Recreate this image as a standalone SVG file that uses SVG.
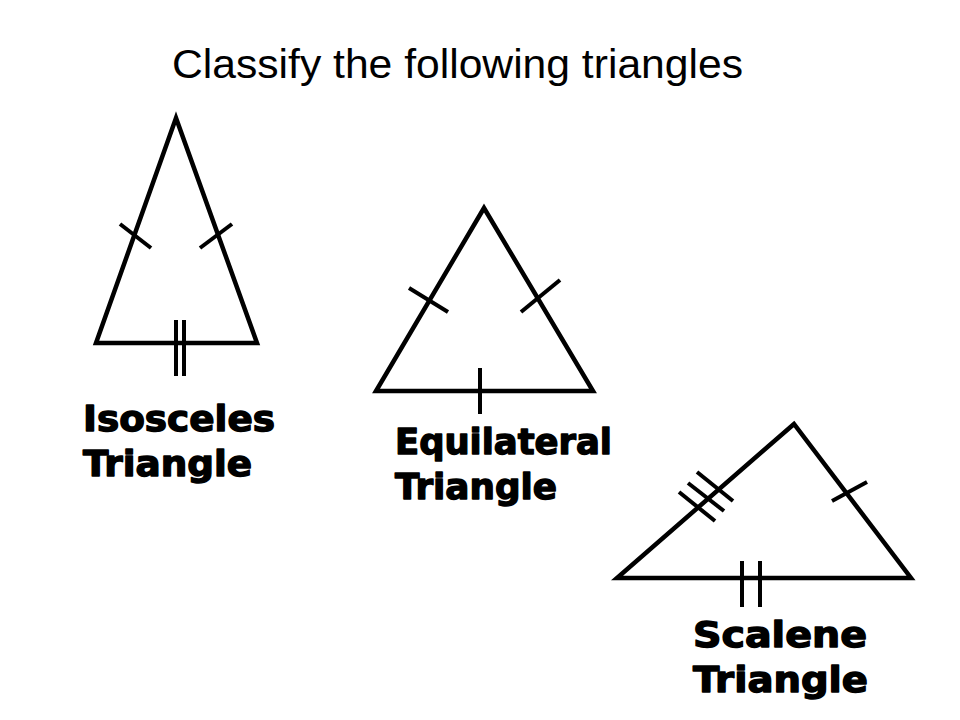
<svg xmlns="http://www.w3.org/2000/svg" width="960" height="720" viewBox="0 0 960 720">
<style>
.tri{fill:none;stroke:#000;stroke-width:4.5;stroke-linejoin:miter}
.tick{stroke:#000;stroke-width:4;fill:none}
.title{font-family:"Liberation Sans",Arial,sans-serif;font-size:41px;fill:#000}
.lbl{font-family:"DejaVu Sans","Liberation Sans",sans-serif;font-weight:bold;font-size:36px;fill:#000;stroke:#000;stroke-width:1.4;stroke-linejoin:round}
</style>
<rect width="960" height="720" fill="#fff"/>
<text class="title" x="172" y="78" textLength="571" lengthAdjust="spacingAndGlyphs">Classify the following triangles</text>
<g id="isosceles">
<polygon class="tri" points="176,118 96,343 257,343"/>
<g class="tick">
<line x1="120" y1="224" x2="151" y2="248"/>
<line x1="232" y1="224" x2="200" y2="248"/>
<line x1="176" y1="320" x2="176" y2="376"/>
<line x1="184" y1="320" x2="184" y2="376"/>
</g>
<text class="lbl" x="83" y="431" textLength="192" lengthAdjust="spacingAndGlyphs">Isosceles</text>
<text class="lbl" x="83" y="476" textLength="169" lengthAdjust="spacingAndGlyphs">Triangle</text>
</g>
<g id="equilateral">
<polygon class="tri" points="484,208 376,391 593,391"/>
<g class="tick">
<line x1="409" y1="288" x2="448" y2="312"/>
<line x1="560" y1="280" x2="521" y2="312"/>
<line x1="480" y1="368" x2="480" y2="414"/>
</g>
<text class="lbl" x="395" y="454" textLength="217" lengthAdjust="spacingAndGlyphs">Equilateral</text>
<text class="lbl" x="395" y="499" textLength="162" lengthAdjust="spacingAndGlyphs">Triangle</text>
</g>
<g id="scalene">
<polygon class="tri" points="794,424 617,578 911,578"/>
<g class="tick">
<line x1="679" y1="492" x2="715" y2="521"/>
<line x1="688" y1="483" x2="724" y2="511"/>
<line x1="697" y1="472" x2="733" y2="501"/>
<line x1="832" y1="501" x2="867" y2="482"/>
<line x1="742" y1="561" x2="742" y2="607"/>
<line x1="760" y1="561" x2="760" y2="607"/>
</g>
<text class="lbl" x="693" y="647" textLength="174" lengthAdjust="spacingAndGlyphs">Scalene</text>
<text class="lbl" x="693" y="692" textLength="175" lengthAdjust="spacingAndGlyphs">Triangle</text>
</g>
<g id="connectors"/>
</svg>
